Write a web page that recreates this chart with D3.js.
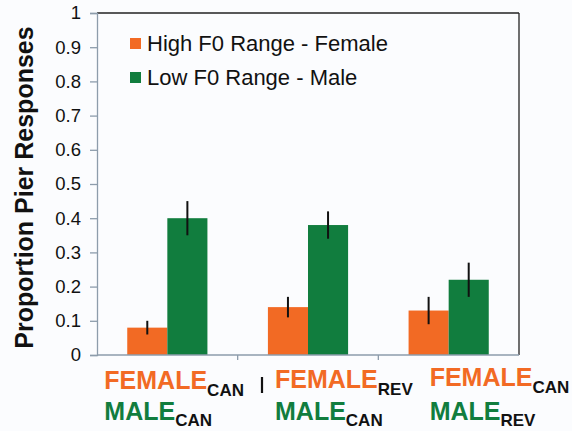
<!DOCTYPE html>
<html>
<head>
<meta charset="utf-8">
<script src="https://cdn.jsdelivr.net/npm/d3@7"></script>
<style>
  body { margin: 0; background: #fbfcfe; }
  svg { display: block; font-family: "Liberation Sans", Arial, sans-serif; }
</style>
</head>
<body>
<svg id="chart" width="572" height="431"></svg>
<script>
// data
const groups = ["g1", "g2", "g3"];
const seriesNames = ["High F0 Range - Female", "Low F0 Range - Male"];
const femaleValues = [0.08, 0.14, 0.13];
const maleValues = [0.40, 0.38, 0.22];
const femaleErr = [0.02, 0.03, 0.04];
const maleErr = [0.05, 0.04, 0.05];
const femaleSub = ["CAN", "REV", "CAN"];
const maleSub = ["CAN", "CAN", "REV"];
const yTicks = [0, 0.1, 0.2, 0.3, 0.4, 0.5, 0.6, 0.7, 0.8, 0.9, 1];

const orange = "#f26a24";
const green = "#117d3e";
const axisGray = "#8d9cab";

const margin = { top: 13, right: 53, bottom: 76, left: 97 };
const width = 572, height = 431;

const svg = d3.select("#chart");

const x = d3
  .scaleBand()
  .domain(groups)
  .range([margin.left, width - margin.right])
  .paddingInner(0.43)
  .paddingOuter(0.215);

const x1 = d3
  .scaleBand()
  .domain([0, 1])
  .range([0, x.bandwidth()]);

const y = d3
  .scaleLinear()
  .domain([0, 1])
  .range([height - margin.bottom, margin.top]);

const colors = [orange, green];

const rows = groups.map((g, i) => ({
  g,
  i,
  vals: [
    { s: 0, v: femaleValues[i], e: femaleErr[i] },
    { s: 1, v: maleValues[i], e: maleErr[i] },
  ],
}));

// frame: top + right black, left + bottom gray
svg.append("line")
  .attr("x1", margin.left).attr("x2", width - margin.right)
  .attr("y1", y(1)).attr("y2", y(1))
  .attr("stroke", "#222").attr("stroke-width", 1.3);
svg.append("line")
  .attr("x1", width - margin.right).attr("x2", width - margin.right)
  .attr("y1", y(1)).attr("y2", y(0))
  .attr("stroke", "#222").attr("stroke-width", 1.3);

// y axis
const yAxis = svg
  .append("g")
  .attr("transform", `translate(${margin.left},0)`)
  .call(
    d3.axisLeft(y)
      .tickValues(yTicks)
      .tickSize(7)
      .tickPadding(9)
      .tickFormat((d) => (d === 0 ? "0" : d === 1 ? "1" : d.toFixed(1)))
  );
yAxis.select(".domain").attr("stroke", axisGray).attr("stroke-width", 1.3);
yAxis.selectAll(".tick line").attr("stroke", axisGray).attr("stroke-width", 1.3);
yAxis.selectAll(".tick text")
  .attr("fill", "#111")
  .style("font-size", "18.5px");

// bars
const bars = svg
  .append("g")
  .selectAll("g")
  .data(rows)
  .join("g")
  .attr("transform", (d) => `translate(${x(d.g)},0)`);

bars
  .selectAll("rect")
  .data((d) => d.vals)
  .join("rect")
  .attr("x", (d) => x1(d.s))
  .attr("width", x1.bandwidth())
  .attr("y", (d) => y(d.v))
  .attr("height", (d) => y(0) - y(d.v))
  .attr("fill", (d) => colors[d.s]);

bars
  .selectAll("line.err")
  .data((d) => d.vals)
  .join("line")
  .attr("class", "err")
  .attr("x1", (d) => x1(d.s) + x1.bandwidth() / 2)
  .attr("x2", (d) => x1(d.s) + x1.bandwidth() / 2)
  .attr("y1", (d) => y(d.v + d.e))
  .attr("y2", (d) => y(d.v - d.e))
  .attr("stroke", "#111")
  .attr("stroke-width", 2);

// x axis
svg.append("line")
  .attr("x1", margin.left).attr("x2", width - margin.right)
  .attr("y1", y(0)).attr("y2", y(0))
  .attr("stroke", axisGray).attr("stroke-width", 1.5);

svg
  .append("g")
  .selectAll("line")
  .data(groups.slice(1))
  .join("line")
  .attr("x1", (d, i) => margin.left + (i + 1) * x.step())
  .attr("x2", (d, i) => margin.left + (i + 1) * x.step())
  .attr("y1", y(0))
  .attr("y2", y(0) + 5)
  .attr("stroke", axisGray)
  .attr("stroke-width", 1.3);

// category labels (hand placed in the original)
const labelShift = [-63, -33, -19];
const labelRise = [0, 1, 3];

const labels = svg
  .append("g")
  .selectAll("g")
  .data(rows)
  .join("g")
  .attr("transform", (d) =>
    `translate(${x(d.g) + x.bandwidth() / 2 + labelShift[d.i]},0)`
  )
  .style("font-weight", "bold");

const fLine = labels
  .append("text")
  .attr("y", (d) => 389 - labelRise[d.i]);
fLine.append("tspan").attr("fill", orange).style("font-size", "25px").text("FEMALE");
fLine.append("tspan").attr("fill", "#111").attr("dy", 7).style("font-size", "17px")
  .text((d) => femaleSub[d.i]);

const mLine = labels.append("text").attr("y", 420);
mLine.append("tspan").attr("fill", green).style("font-size", "25px").text("MALE");
mLine.append("tspan").attr("fill", "#111").attr("dy", 6).style("font-size", "17px")
  .text((d) => maleSub[d.i]);

// stray separator mark from the original
svg.append("line")
  .attr("x1", 262).attr("x2", 262)
  .attr("y1", 377).attr("y2", 393)
  .attr("stroke", "#111").attr("stroke-width", 2.2);

// y title
svg
  .append("text")
  .attr("transform", `translate(33, ${(30 + 345) / 2}) rotate(-90)`)
  .attr("text-anchor", "middle")
  .style("font-size", "25px")
  .style("font-weight", "bold")
  .attr("fill", "#111")
  .text("Proportion Pier Responses");

// legend
const legend = svg
  .append("g")
  .selectAll("g")
  .data(seriesNames)
  .join("g")
  .attr("transform", (d, i) => `translate(130, ${38 + i * 34})`);

legend
  .append("rect")
  .attr("width", 11)
  .attr("height", 11)
  .attr("fill", (d, i) => colors[i]);

legend
  .append("text")
  .attr("x", 17)
  .attr("y", 13)
  .style("font-size", "22px")
  .attr("fill", "#111")
  .text((d) => d);
</script>
</body>
</html>
